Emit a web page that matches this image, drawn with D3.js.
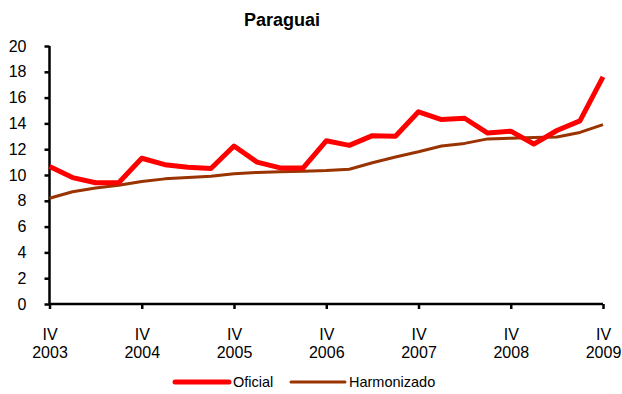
<!DOCTYPE html>
<html>
<head>
<meta charset="utf-8">
<script src="https://cdn.jsdelivr.net/npm/d3@7"></script>
<style>
  html, body { margin: 0; padding: 0; background: #fff; }
  svg { display: block; font-family: "Liberation Sans", Arial, sans-serif; }
</style>
</head>
<body>
<svg id="chart" width="622" height="394"></svg>
<script>
// Quarterly unemployment rate, Paraguay, IV 2003 – IV 2009
const quarters = ["IV 2003","I 2004","II 2004","III 2004","IV 2004","I 2005","II 2005","III 2005",
  "IV 2005","I 2006","II 2006","III 2006","IV 2006","I 2007","II 2007","III 2007",
  "IV 2007","I 2008","II 2008","III 2008","IV 2008","I 2009","II 2009","III 2009","IV 2009"];
const oficial = [10.65, 9.8, 9.4, 9.4, 11.3, 10.8, 10.6, 10.5, 12.25, 11.0, 10.55, 10.55,
  12.65, 12.3, 13.05, 13.0, 14.9, 14.3, 14.4, 13.25, 13.4, 12.4, 13.45, 14.2, 17.6];
const harmonizado = [8.2, 8.7, 9.0, 9.2, 9.5, 9.7, 9.8, 9.9, 10.1, 10.2, 10.25, 10.3,
  10.35, 10.45, 10.95, 11.4, 11.8, 12.25, 12.45, 12.8, 12.85, 12.9, 12.95, 13.3, 13.9];
const yTicks = [0, 2, 4, 6, 8, 10, 12, 14, 16, 18, 20];
const xTickIndex = [0, 4, 8, 12, 16, 20, 24];
const xTickLabels = [["IV","2003"],["IV","2004"],["IV","2005"],["IV","2006"],["IV","2007"],["IV","2008"],["IV","2009"]];
const seriesNames = ["Oficial", "Harmonizado"];
const seriesColors = ["#ff0000", "#993300"];
const seriesWidths = [5, 3];

const svg = d3.select("#chart");

const x = d3.scaleLinear().domain([0, quarters.length - 1]).range([49.5, 603]);
const y = d3.scaleLinear().domain([0, 20]).range([304, 46]);

// Title
svg.append("text")
  .attr("x", 282).attr("y", 26)
  .attr("text-anchor", "middle")
  .attr("font-size", 18).attr("font-weight", "bold")
  .text("Paraguai");

// Y axis
const yAxis = d3.axisLeft(y).tickValues(yTicks).tickSize(5).tickPadding(6).tickFormat(d3.format("d"));
const gy = svg.append("g").attr("transform", "translate(49.5,0)").call(yAxis);
gy.select(".domain").attr("stroke", "#000").attr("stroke-width", 2.5).attr("d", `M0,${y(0)}V${y(20)}`);
gy.selectAll(".tick line").attr("stroke", "#000").attr("stroke-width", 2.5).attr("x1", -5).attr("x2", 0);
gy.selectAll(".tick text").attr("font-size", 16).attr("fill", "#000")
  .attr("font-family", "Liberation Sans, Arial, sans-serif")
  .attr("x", -23);

// X axis
const xAxis = d3.axisBottom(x).tickValues(xTickIndex).tickSize(5).tickFormat("");
const gx = svg.append("g").attr("transform", `translate(0,${y(0)})`).call(xAxis);
gx.select(".domain").attr("stroke", "#000").attr("stroke-width", 2.5).attr("d", `M${x(0)},0H${x(24)}`);
gx.selectAll(".tick line").attr("stroke", "#000").attr("stroke-width", 2.5);
gx.selectAll(".tick").each(function(d, i) {
  const t = d3.select(this).append("text")
    .attr("text-anchor", "middle").attr("font-size", 16).attr("fill", "#000");
  t.append("tspan").attr("x", 0).attr("y", 36).text(xTickLabels[i][0]);
  t.append("tspan").attr("x", 0).attr("y", 53.5).text(xTickLabels[i][1]);
});

// Series lines
const line = d3.line().x((d, i) => x(i)).y(d => y(d));
[oficial, harmonizado].forEach((vals, k) => {
  svg.append("path")
    .datum(vals)
    .attr("fill", "none")
    .attr("stroke", seriesColors[k])
    .attr("stroke-width", seriesWidths[k])
    .attr("stroke-linejoin", "round")
    .attr("d", line);
});
// draw the official series on top
svg.selectAll("path").filter(function() { return d3.select(this).attr("stroke") === "#ff0000"; }).raise();

// Legend
const legendItems = [{x0: 175, x1: 229, tx: 233}, {x0: 291, x1: 345, tx: 349}];
legendItems.forEach((p, k) => {
  svg.append("line")
    .attr("x1", p.x0).attr("x2", p.x1).attr("y1", 382).attr("y2", 382)
    .attr("stroke", seriesColors[k]).attr("stroke-width", seriesWidths[k])
    .attr("stroke-linecap", "round");
  svg.append("text")
    .attr("x", p.tx).attr("y", 387)
    .attr("font-size", 14.5).attr("fill", "#000")
    .text(seriesNames[k]);
});
</script>
</body>
</html>
